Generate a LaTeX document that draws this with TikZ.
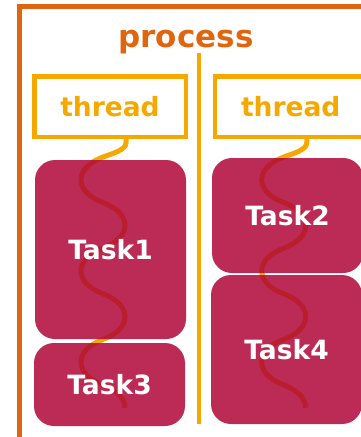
\documentclass[tikz,border=0pt]{standalone}
\usepackage{fontspec}
\setmainfont{DejaVu Sans}
\definecolor{procorange}{HTML}{E0650F}
\definecolor{thryellow}{HTML}{F5A800}
\definecolor{taskred}{RGB}{176,6,55}

\begin{document}
\begin{tikzpicture}[x=1pt,y=-1pt,
  threadbox/.style={draw=thryellow, line width=4.5pt, minimum width=151.5pt,
    minimum height=60.5pt, inner sep=0pt, text=thryellow,
    font=\fontsize{26.5}{30}\selectfont\bfseries},
  taskbox/.style={fill=taskred, fill opacity=0.85, text opacity=1,
    rounded corners=20pt, minimum width=151pt, inner sep=0pt, text=white,
    font=\fontsize{26.5}{30}\selectfont\bfseries},
  snake/.style={draw=thryellow, line width=5pt}]
\useasboundingbox (0,0) rectangle (361,437);
\clip (0,0) rectangle (361,437);

% process frame and the divider between the two threads
\draw[procorange, line width=5pt] (19.2,6.5) rectangle (430,520);
\node[text=procorange, font=\fontsize{31}{36}\selectfont\bfseries,
  anchor=base, inner sep=0pt] (proc) at (186,47) {process};
\draw[thryellow, line width=4pt] (199,53) -- (199,424);

% thread headers
\node[threadbox] (thread1) at (110,106.5) {thread};
\node[threadbox] (thread2) at (290.75,106.5) {thread};

% execution path of each thread: alternating bulges (half period 45.6pt)
\foreach \th/\dx in {thread1/0, thread2/180.75} {
  \begin{scope}[xshift=\dx pt]
    \draw[snake] ([xshift=16pt]\th.south) -- (126,143)
      .. controls (126,150) and (111,154) .. (103,157)
      \foreach \k/\s in {0/-1, 1/1, 2/-1, 3/1, 4/-1} {
        .. controls ({103+8*\s},{160+45.6*\k}) and ({103+22*\s},{167.2+45.6*\k})
        .. ({103+22*\s},{179.8+45.6*\k})
        .. controls ({103+22*\s},{192.4+45.6*\k}) and ({103+8*\s},{199.6+45.6*\k})
        .. (103,{202.6+45.6*\k})
      }
      .. controls (111,388) and (125,395.2) .. (125,407.8)
      coordinate (\th-end);
  \end{scope}
}

% tasks
\node[taskbox, minimum height=179pt] (task1) at (110.5,249.5) {Task1};
\node[taskbox, minimum height=83pt]  (task3) at (109.5,384.5) {Task3};
\node[taskbox, minimum height=115pt] (task2) at (287.5,215.5) {Task2};
\node[taskbox, minimum height=149pt] (task4) at (286.5,349.5) {Task4};
\end{tikzpicture}
\end{document}
